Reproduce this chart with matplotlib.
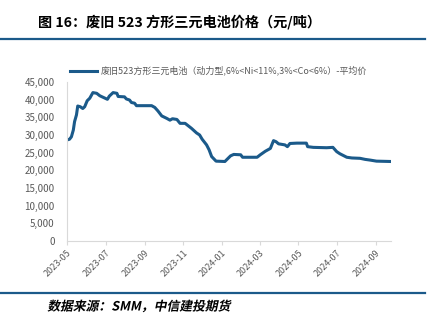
import matplotlib
matplotlib.use("Agg")
import matplotlib.pyplot as plt
import matplotlib.dates as mdates
from matplotlib.lines import Line2D
from matplotlib.ticker import FuncFormatter
from matplotlib.patheffects import AbstractPathEffect
from matplotlib.transforms import Affine2D
import pandas as pd

plt.rcParams['font.family'] = ['Noto Sans CJK SC', 'DejaVu Sans']

# 废旧523方形三元电池 平均价 (元/吨)
dates = ['2023-05-01', '2023-05-05', '2023-05-08', '2023-05-11', '2023-05-13', '2023-05-16',
         '2023-05-18', '2023-05-22', '2023-05-26', '2023-05-29', '2023-06-02', '2023-06-06',
         '2023-06-11', '2023-06-17', '2023-06-22', '2023-07-04', '2023-07-07', '2023-07-13',
         '2023-07-19', '2023-07-21', '2023-07-31', '2023-08-03', '2023-08-08', '2023-08-11',
         '2023-08-16', '2023-08-19', '2023-09-12', '2023-09-17', '2023-09-22', '2023-09-28',
         '2023-10-06', '2023-10-11', '2023-10-15', '2023-10-22', '2023-10-27', '2023-11-04',
         '2023-11-09', '2023-11-14', '2023-11-22', '2023-11-27', '2023-12-01', '2023-12-08',
         '2023-12-12', '2023-12-16', '2023-12-23', '2024-01-06', '2024-01-15', '2024-01-20',
         '2024-01-31', '2024-02-03', '2024-02-26', '2024-03-02', '2024-03-10', '2024-03-18',
         '2024-03-23', '2024-03-27', '2024-03-31', '2024-04-10', '2024-04-14', '2024-04-18',
         '2024-04-29', '2024-05-14', '2024-05-16', '2024-05-25', '2024-06-15', '2024-06-25',
         '2024-07-01', '2024-07-06', '2024-07-17', '2024-07-25', '2024-08-07', '2024-08-15',
         '2024-08-23', '2024-09-02', '2024-09-25']
prices = [28600, 28800, 29500, 31400, 33800, 35700,
          38200, 38000, 37500, 38000, 39700, 40400,
          42000, 41800, 41100, 40100, 41000, 42000,
          41800, 40900, 40800, 40200, 39900, 39200,
          39000, 38300, 38300, 37800, 36800, 35400,
          34700, 34200, 34600, 34400, 33300, 33300,
          32600, 31900, 30600, 30000, 28800, 27200,
          25800, 23900, 22600, 22500, 24100, 24500,
          24400, 23700, 23700, 24400, 25400, 26200,
          28400, 28100, 27500, 27200, 26700, 27600,
          27700, 27700, 26700, 26500, 26400, 26500,
          25300, 24700, 23700, 23500, 23400, 23100,
          22900, 22600, 22500]
series_label = '废旧523方形三元电池（动力型,6%<Ni<11%,3%<Co<6%）-平均价'
title = '图 16：废旧 523 方形三元电池价格（元/吨）'
source = '数据来源：SMM，中信建投期货'

x = pd.to_datetime(dates)

blue = '#1B5A8A'
gray = '#595959'


# fake italic for the source line (no italic CJK font installed)
class Oblique(AbstractPathEffect):
    def __init__(self, x0, y0, deg=12):
        super().__init__()
        self.t = Affine2D().translate(-x0, -y0).skew_deg(deg, 0).translate(x0, y0)

    def draw_path(self, renderer, gc, tpath, affine, rgbFace=None):
        renderer.draw_path(gc, tpath, affine + self.t, rgbFace)


fig = plt.figure(figsize=(4.44, 3.25), dpi=100)
ax = fig.add_axes([67/444, 1-241/325, (391-67)/444, (241-82)/325])

ax.plot(x, prices, color=blue, linewidth=2.2, label=series_label, solid_joinstyle='round')

ax.set_ylim(0, 45000)
ax.set_yticks(range(0, 45001, 5000))
ax.yaxis.set_major_formatter(FuncFormatter(lambda v, p: f'{v:,.0f}'))
ax.set_xlim(pd.Timestamp('2023-05-01'), pd.Timestamp('2024-09-25'))
ax.xaxis.set_major_locator(mdates.MonthLocator(bymonth=[1, 3, 5, 7, 9, 11]))
ax.xaxis.set_major_formatter(mdates.DateFormatter('%Y-%m'))

for s in ['top', 'right']:
    ax.spines[s].set_visible(False)
for s in ['left', 'bottom']:
    ax.spines[s].set_color('#D9D9D9')
    ax.spines[s].set_linewidth(0.8)

ax.tick_params(axis='y', length=0, labelsize=7, labelcolor=gray, pad=9)
ax.tick_params(axis='x', length=3, color='#D9D9D9', labelsize=6.5, labelcolor=gray, pad=2)
for lab in ax.get_xticklabels():
    lab.set_rotation(45)
    lab.set_ha('right')
    lab.set_rotation_mode('anchor')

ax.legend(loc='lower left', bbox_to_anchor=(-0.01, 1.0), frameon=False, fontsize=6.5,
          labelcolor=gray, handlelength=3.0, handletextpad=0.4, borderaxespad=0.3)

# header / footer
fig.text(38/444, 1-22/325, title, fontsize=10.2, fontweight='bold', va='center', ha='left')
fig.add_artist(Line2D([0, 425/444], [1-39/325, 1-39/325], color=blue, linewidth=1.6))
fig.add_artist(Line2D([0, 425/444], [1-293/325, 1-293/325], color=blue, linewidth=1.6))
fig.text(48/444, 1-307/325, source, fontsize=9.2, fontweight='bold',
         va='center', ha='left', path_effects=[Oblique(48, 325-307)])

fig.savefig('out.png', dpi=100)
